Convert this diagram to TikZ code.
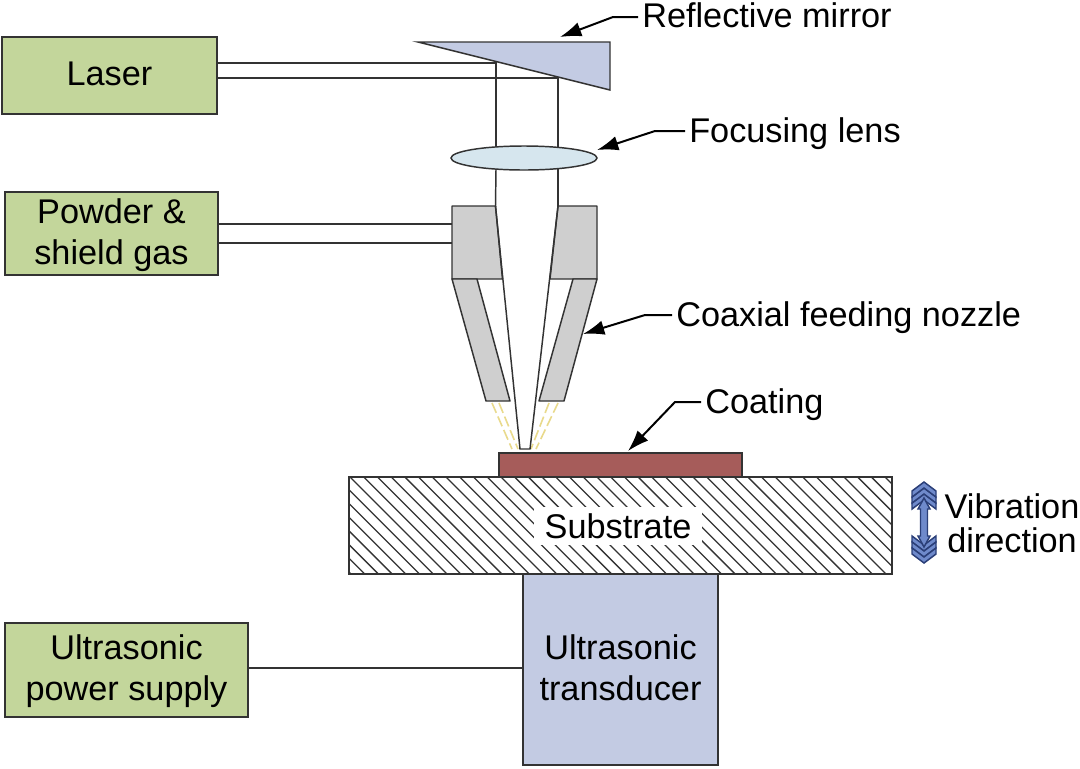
\documentclass[tikz,border=0pt]{standalone}
\usepackage{fontspec}
\setmainfont{Liberation Sans}
\usetikzlibrary{shapes.geometric,arrows.meta}
\definecolor{boxgreen}{HTML}{C3D69B}
\definecolor{paleblue}{HTML}{C3CBE3}
\definecolor{lensblue}{HTML}{D6E6EE}
\definecolor{nozzlegrey}{HTML}{CFCFCF}
\definecolor{coatred}{HTML}{A65C5A}
\definecolor{linegrey}{HTML}{333333}
\definecolor{sparkle}{HTML}{E9DA8C}
\definecolor{vibfill}{HTML}{6F8ACB}
\definecolor{vibedge}{HTML}{2B3F78}
\tikzset{
  outlined/.style={draw=linegrey,line width=1.1pt},
  boxtext/.style={align=center,inner sep=0pt,font=\fontsize{25.7}{30.7}\selectfont},
  greenbox/.style={outlined,fill=boxgreen,inner sep=0pt},
  bluebox/.style={outlined,fill=paleblue,inner sep=0pt},
  thinline/.style={draw=linegrey,line width=1.1pt},
  leader/.style={draw=black,line width=1.5pt,-{Latex[length=16pt,width=11pt]}},
  caption/.style={font=\fontsize{25.7}{30}\selectfont,inner sep=0pt,anchor=base west},
  nozzle/.style={outlined,fill=nozzlegrey,line join=round},
  spray/.style={draw=sparkle,line width=1.2pt,dash pattern=on 8pt off 3pt},
  vib/.style={draw=vibedge,line width=1.1pt,fill=vibfill,line join=miter}
}
\begin{document}
\begin{tikzpicture}[x=0.75pt,y=-0.75pt]
\useasboundingbox (0,0) rectangle (1080,768);
\fill[white] (0,0) rectangle (1080,768);

% coordinates of the beam and the feed lines
\coordinate (beamA) at (218,63);
\coordinate (beamB) at (218,78);
\coordinate (hitA) at (496,63);
\coordinate (hitB) at (558,78);
\coordinate (lensTopA) at (496,147);
\coordinate (lensTopB) at (558,147);
\coordinate (lensBotA) at (496,169);
\coordinate (lensBotB) at (558,169);
\coordinate (coneA) at (495.5,206);
\coordinate (coneB) at (558,206);
\coordinate (tipA) at (520,449);
\coordinate (tipB) at (530,449);
\coordinate (gasA) at (218,224);
\coordinate (gasB) at (218,243);
\coordinate (gasEndA) at (452,224);
\coordinate (gasEndB) at (452,243);
\coordinate (supplyOut) at (248,668);
\coordinate (transIn) at (523,668);

% substrate hatching
\node[minimum width=407.25pt,minimum height=72.75pt,inner sep=0pt] (substrate) at (620.5,525.5) {};
\begin{scope}
\clip (349,477) rectangle (892,574);
\foreach \i in {-8,...,40}
  \draw[linegrey,line width=0.95pt] ({350+13.72*\i},477) -- ({350+13.72*\i+97},574);
\end{scope}
\node[fill=white,inner sep=0pt,minimum width=126pt,minimum height=29pt,font=\fontsize{25.7}{30}\selectfont] (sublabel) at (618,526) {Substrate};
\node[outlined,minimum width=407.25pt,minimum height=72.75pt,inner sep=0pt] at (substrate) {};

% boxes
\node[greenbox,minimum width=161.25pt,minimum height=57.75pt,label={[boxtext,yshift=1.5pt]center:Laser}] (laser) at (109.5,75.5) {};
\node[greenbox,minimum width=159.75pt,minimum height=62.25pt,label={[boxtext,yshift=-1.5pt]center:{Powder \&\\shield gas}}] (powder) at (111.5,233.5) {};
\node[greenbox,minimum width=182.25pt,minimum height=70.5pt,label={[boxtext,yshift=-0.75pt]center:{Ultrasonic\\power supply}}] (supply) at (126.5,670) {};
\node[bluebox,minimum width=146.25pt,minimum height=143.25pt,label={[boxtext,yshift=1.5pt]center:{Ultrasonic\\transducer}}] (transducer) at (620.5,669.5) {};
\node[outlined,fill=coatred,minimum width=182.25pt,minimum height=18pt,inner sep=0pt] (coating) at (620.5,465) {};

% laser beam
\draw[thinline] (beamA) -- (hitA) -- (lensTopA);
\draw[thinline] (beamB) -- (hitB) -- (lensTopB);
\draw[thinline] (lensBotA) -- (coneA);
\draw[thinline] (lensBotB) -- (coneB);

% mirror and lens
\draw[outlined,fill=paleblue,line join=miter] (418,42) -- (610,42) -- (610,90) -- cycle;
\node[outlined,fill=lensblue,ellipse,minimum width=109.5pt,minimum height=18pt,inner sep=0pt] (lens) at (524,158) {};

% feed lines
\draw[thinline] (gasA) -- (gasEndA);
\draw[thinline] (gasB) -- (gasEndB);
\draw[thinline] (supplyOut) -- (transIn);

% powder spray
\draw[spray] (492,403) -- (512,449);
\draw[spray] (499,403) -- (518,449);
\draw[spray] (549,403) -- (531,449);
\draw[spray] (558,403) -- (536,449);

% nozzle
\draw[nozzle] (452,206) -- (495.5,206) -- (502.5,279) -- (452,279) -- cycle;
\draw[nozzle] (558,206) -- (597,206) -- (597,279) -- (550,279) -- cycle;
\draw[nozzle] (452,279) -- (477,279) -- (510,401) -- (486,401) -- cycle;
\draw[nozzle] (597,279) -- (573,279) -- (539,401) -- (564,401) -- cycle;
\draw[thinline] (coneA) -- (tipA) -- (tipB) -- (coneB);

% captions
\node[caption] (mirrorcap) at (642,27) {Reflective mirror};
\node[caption] (lenscap) at (689,142) {Focusing lens};
\node[caption] (nozzlecap) at (676,326) {Coaxial feeding nozzle};
\node[caption] (coatcap) at (705,413) {Coating};
\node[font=\fontsize{25.7}{25.5}\selectfont,inner sep=0pt,align=center] (vibcap) at (1012,523) {Vibration\\direction};

% leaders
\coordinate (mirrorpt) at (560,37);
\coordinate (lenspt) at (597,150);
\coordinate (nozzlept) at (583,334);
\coordinate (coatpt) at (628,451);
\coordinate (kneeA) at (613,17);
\coordinate (kneeB) at (655,131);
\coordinate (kneeC) at (645,315);
\coordinate (kneeD) at (675,402);
\draw[leader] (mirrorcap.west |- kneeA) ++(-4,0) -- (kneeA) -- (mirrorpt);
\draw[leader] (lenscap.west |- kneeB) ++(-4,0) -- (kneeB) -- (lenspt);
\draw[leader] (nozzlecap.west |- kneeC) ++(-4,0) -- (kneeC) -- (nozzlept);
\draw[leader] (coatcap.west |- kneeD) ++(-4,0) -- (kneeD) -- (coatpt);

% vibration arrow
\foreach \a in {494,488,482}
  \draw[vib] (924,\a) -- (936,\a+9) -- (936,\a+15) -- (924,\a+6) -- (912,\a+15) -- (912,\a+9) -- cycle;
\foreach \a in {551,557,563}
  \draw[vib] (924,\a) -- (936,\a-9) -- (936,\a-15) -- (924,\a-6) -- (912,\a-15) -- (912,\a-9) -- cycle;
\draw[vib] (924,498) -- (930,509) -- (927.5,509) -- (927.5,536) -- (930,536) -- (924,547) -- (918,536) -- (920.5,536) -- (920.5,509) -- (918,509) -- cycle;
\end{tikzpicture}
\end{document}
